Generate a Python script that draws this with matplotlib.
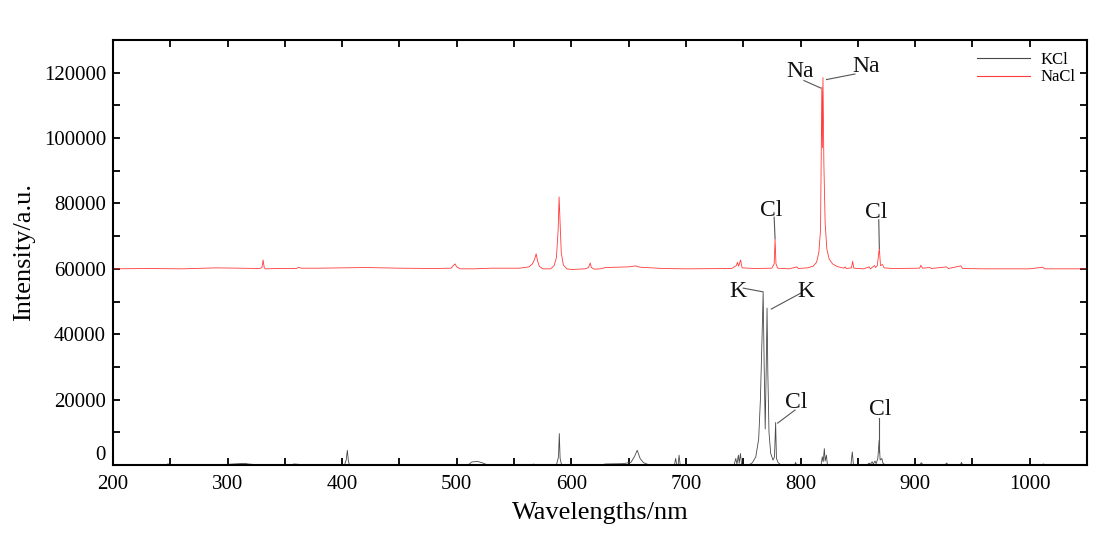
import matplotlib
matplotlib.use("Agg")
import matplotlib.pyplot as plt
from matplotlib.ticker import MultipleLocator

plt.rcParams['font.family'] = ['Liberation Serif', 'DejaVu Serif']

# ---------------- data ----------------
kcl_wl = [200, 247, 248, 249, 290, 300, 310, 315, 318, 325, 340,
          355, 358, 362, 365,
          402, 403.5, 404.5, 405.5, 406.5,
          510, 513, 518, 522, 527,
          566, 567, 568,
          587, 588.8, 589.5, 590.2, 591.5,
          625, 630, 645, 652, 655, 657.5, 660, 663, 668,
          690, 691, 692, 693.2, 694, 695,
          742, 743.5, 744.5, 745.8, 746.5, 747.6, 748.6,
          755, 758, 761, 763.5, 765, 766.5, 767.4, 768.3, 769.2, 770.1, 770.8,
          771.5, 772.5, 774, 776, 777.3, 778.3, 779, 780.5, 783,
          795, 795.7, 796.5,
          818, 819, 819.8, 820.8, 821.5, 822.6, 823.5,
          844, 845.2, 846.2,
          858, 860, 861, 862.5, 863.5, 865, 866, 867.5, 868.6, 869.5, 871, 872, 874,
          904, 905.5, 907,
          926, 927.5, 929,
          939.5, 940.5, 941.5,
          1010, 1012, 1014, 1050]
kcl_int = [0, 0, 400, 0, 0, 200, 400, 500, 300, 100, 0,
           0, 300, 200, 0,
           0, 1500, 4500, 1000, 0,
           0, 900, 1100, 700, 0,
           0, 300, 0,
           0, 2500, 9600, 2000, 0,
           0, 300, 400, 800, 2500, 4500, 2000, 700, 0,
           0, 2000, 0, 0, 3000, 0,
           0, 2000, 300, 3000, 500, 3500, 0,
           0, 700, 2500, 8000, 20000, 40000, 53000, 30000, 11000, 30000, 48000,
           28000, 10000, 3500, 1500, 2500, 13000, 2000, 700, 0,
           0, 800, 0,
           0, 2500, 1000, 5000, 1200, 3000, 0,
           0, 4000, 0,
           0, 600, 100, 1000, 300, 1200, 400, 2000, 7500, 1500, 2000, 500, 0,
           0, 700, 0,
           0, 600, 0,
           0, 800, 0,
           0, 300, 0, 0]

nacl_wl = [200, 230, 260, 290, 310, 328, 330, 331, 332, 333, 345, 360, 362, 364,
           380, 420, 450, 480, 495, 497, 498.5, 500, 503, 515, 530, 555,
           563, 566, 568, 569.3, 570.5, 572, 575,
           582, 585, 587, 588.5, 589.3, 590.2, 591.2, 593, 596, 600,
           612, 615, 616.5, 617.5, 620, 625, 630, 650, 656, 660, 680, 700,
           740, 744, 745, 746, 747.7, 749, 760, 775, 777, 777.8, 778.6, 780,
           790, 797, 798, 806, 811, 814, 816, 817.5, 818.6, 819.1, 819.6, 820.4,
           821.5, 823, 825, 828, 832, 838, 839, 840, 844.5, 845.5, 846.5,
           855, 860, 861, 864.5, 865.5, 867, 868.8, 869.8, 871.5, 873, 880,
           904, 905, 906.5, 913, 914, 927.5, 929, 940, 941.5, 960, 1000,
           1011.5, 1013, 1050]
nacl_int = [60000, 60100, 60000, 60300, 60200, 60100, 60400, 62700, 60300, 60000,
            60100, 60100, 60500, 60200,
            60200, 60400, 60200, 60100, 60200, 61000, 61500, 60600, 60000, 60000,
            60200, 60200,
            60600, 61500, 63000, 64600, 62500, 60800, 60000,
            60000, 61000, 63500, 72000, 82000, 74000, 65000, 61200, 60000, 59800,
            60000, 60400, 61800, 60400, 59900, 60000, 60400, 60600, 60900, 60500,
            60100, 60000,
            60100, 61000, 62000, 60800, 62700, 60300, 60100, 60200, 61500, 69000,
            61500, 60200,
            60000, 60600, 60100, 60300, 60800, 62000, 65000, 72000, 115500, 97000,
            118500, 92000,
            74000, 66000, 63000, 61500, 60700, 60200, 60600, 60100, 60300, 62300,
            60200,
            60000, 60600, 60000, 61000, 60400, 61000, 66300, 61000, 61300, 60300,
            60100,
            60200, 61100, 60200, 60400, 60100, 60600, 60100, 60900, 60100, 60000,
            60000, 60500, 60000, 60000]

series_labels = ['KCl', 'NaCl']
x_ticks = [200, 300, 400, 500, 600, 700, 800, 900, 1000]
y_ticks = [0, 20000, 40000, 60000, 80000, 100000, 120000]

# annotations: (label, text position, line start, line end) -- layout only
annotations = [
    ('Na', (799.5, 120300), (803.0, 117600), (817.7, 115300)),
    ('Na', (857.5, 121800), (847.5, 119600), (822.7, 117900)),
    ('Cl', (774.0, 77800), (777.0, 75800), (777.8, 69200)),
    ('Cl', (865.8, 77300), (868.3, 75000), (868.8, 66300)),
    ('K', (745.0, 53000), (750.0, 54100), (766.8, 53000)),
    ('K', (805.0, 53000), (800.9, 52700), (774.5, 47700)),
    ('Cl', (796.6, 19000), (795.2, 16800), (780.0, 12800)),
    ('Cl', (869.3, 17000), (868.6, 14300), (868.6, 4000)),
]

# ---------------- figure ----------------
fig = plt.figure(figsize=(11.2, 5.48), dpi=100)
ax = fig.add_axes([0.1009, 0.1515, 0.8696, 0.7755])

ax.plot(kcl_wl, kcl_int, color='#484848', lw=0.6, label=series_labels[0])
ax.plot(nacl_wl, nacl_int, color='#ff3a3a', lw=0.6, label=series_labels[1])

for lab, tpos, p0, p1 in annotations:
    ax.plot([p0[0], p1[0]], [p0[1], p1[1]], color='#555555', lw=0.8)
    ax.text(tpos[0], tpos[1], lab, fontsize=17, ha='center', va='center', color='#111')

ax.set_xlim(200, 1050)
ax.set_ylim(0, 130000)
ax.set_xticks(x_ticks)
ax.set_yticks(y_ticks)
ax.xaxis.set_minor_locator(MultipleLocator(50))
ax.yaxis.set_minor_locator(MultipleLocator(10000))
ax.tick_params(which='both', direction='in', top=True, right=True, width=1.3,
               labelsize=15, length=5)
ax.tick_params(axis='x', pad=7)
ax.tick_params(axis='y', pad=5)
for s in ax.spines.values():
    s.set_linewidth(1.5)

# raise the "0" label slightly so it clears the "200" below it
ax.get_yticklabels()[0].set_verticalalignment('bottom')

ax.set_xlabel('Wavelengths/nm', fontsize=19, labelpad=6)
ax.set_ylabel('Intensity/a.u.', fontsize=19, labelpad=6)

leg = ax.legend(loc='upper right', frameon=False, fontsize=12, handlelength=3.2,
                borderaxespad=0.3, labelspacing=0.1, handletextpad=0.6)
for h in leg.get_lines():
    h.set_linewidth(0.8)

fig.savefig('out.png', dpi=100)
